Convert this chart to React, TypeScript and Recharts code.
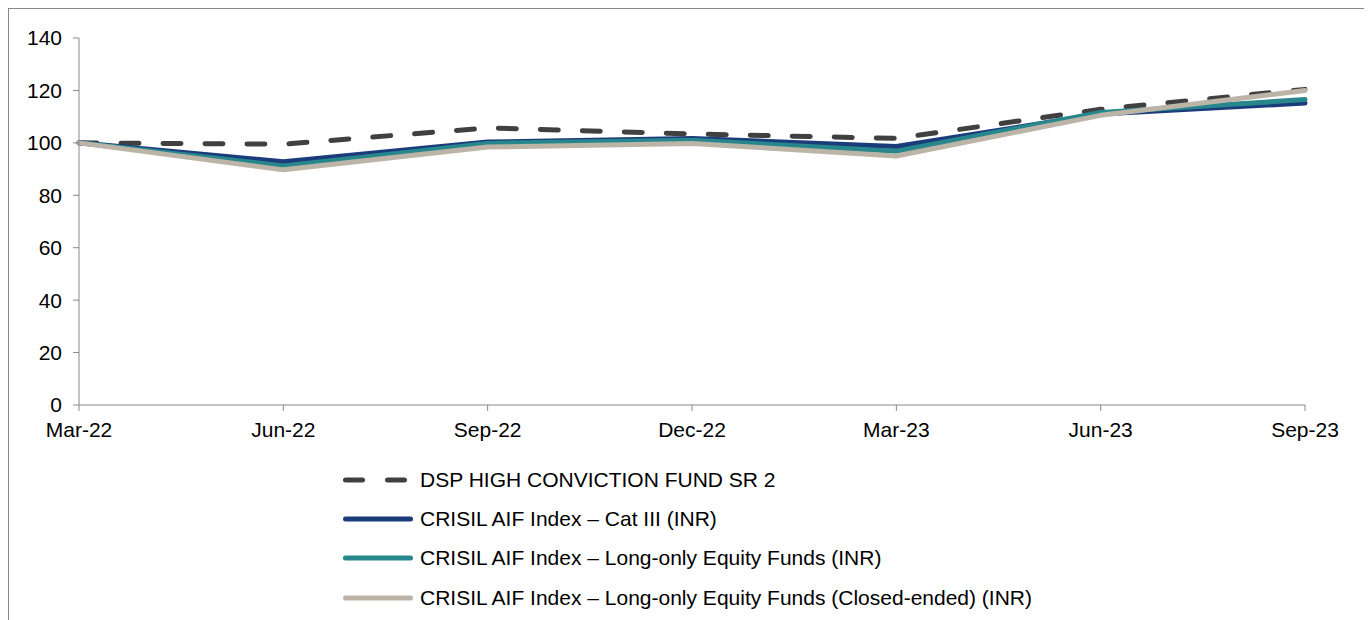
import { LineChart, Line, XAxis, YAxis, Legend } from 'recharts';

const MONTHS = ['Mar-22', 'Jun-22', 'Sep-22', 'Dec-22', 'Mar-23', 'Jun-23', 'Sep-23'];
const DSP_FUND = [100, 99.5, 105.7, 103.4, 101.7, 112.8, 120.4];
const CAT_III = [100, 92.8, 100.3, 101.7, 98.6, 111.0, 115.2];
const LONG_ONLY = [100, 91.2, 99.8, 101.0, 96.8, 111.6, 116.5];
const LONG_ONLY_CLOSED = [100, 89.7, 98.4, 99.8, 95.0, 110.5, 120.0];
const Y_TICKS = [0, 20, 40, 60, 80, 100, 120, 140];

const SERIES = [
  { key: 'dsp', name: 'DSP HIGH CONVICTION FUND SR 2', color: '#404040', dash: '17 25' },
  { key: 'cat3', name: 'CRISIL AIF Index \u2013 Cat III (INR)', color: '#1b3c7a', dash: undefined },
  { key: 'longOnly', name: 'CRISIL AIF Index \u2013 Long-only Equity Funds (INR)', color: '#27878c', dash: undefined },
  { key: 'closed', name: 'CRISIL AIF Index \u2013 Long-only Equity Funds (Closed-ended) (INR)', color: '#bcb4a7', dash: undefined },
];

const data = MONTHS.map((m, i) => ({
  month: m,
  dsp: DSP_FUND[i],
  cat3: CAT_III[i],
  longOnly: LONG_ONLY[i],
  closed: LONG_ONLY_CLOSED[i],
}));

const FONT = '"Liberation Sans", Arial, sans-serif';
const AXIS = '#888888';

function LegendRows() {
  return (
    <div style={{ fontFamily: FONT, fontSize: 21, color: '#000' }}>
      {SERIES.map((s) => (
        <div key={s.key} style={{ height: 39.3, display: 'flex', alignItems: 'center' }}>
          <svg width={77} height={10} style={{ display: 'block' }}>
            <line
              x1={2.5}
              x2={s.dash ? 69.5 : 67.5}
              y1={5}
              y2={5}
              stroke={s.color}
              strokeWidth={5}
              strokeLinecap="round"
              strokeDasharray={s.dash}
            />
          </svg>
          <span style={{ whiteSpace: 'nowrap' }}>{s.name}</span>
        </div>
      ))}
    </div>
  );
}

export default function App() {
  return (
    <div style={{ width: 1358, height: 640, border: `1px solid ${AXIS}`, borderBottom: 'none', background: '#fff' }}>
      <LineChart width={1358} height={611} data={data} margin={{ top: 29, right: 62, bottom: 185, left: 0 }}>
        <XAxis
          dataKey="month"
          interval={0}
          height={30}
          tickSize={6}
          tickMargin={11}
          stroke={AXIS}
          tick={{ fill: '#000', fontSize: 21, fontFamily: FONT }}
        />
        <YAxis
          domain={[0, 140]}
          ticks={Y_TICKS}
          width={70}
          tickSize={6}
          tickMargin={11}
          stroke={AXIS}
          tick={{ fill: '#000', fontSize: 21, fontFamily: FONT }}
        />
        <Legend
          layout="vertical"
          verticalAlign="middle"
          align="center"
          content={LegendRows}
          wrapperStyle={{ left: 334, top: 451, width: 760 }}
        />
        {SERIES.map((s) => (
          <Line
            key={s.key}
            type="linear"
            dataKey={s.key}
            name={s.name}
            stroke={s.color}
            strokeWidth={5}
            strokeLinecap="round"
            strokeLinejoin="round"
            strokeDasharray={s.dash ? '18 24' : undefined}
            dot={false}
            activeDot={false}
            isAnimationActive={false}
          />
        ))}
      </LineChart>
    </div>
  );
}
